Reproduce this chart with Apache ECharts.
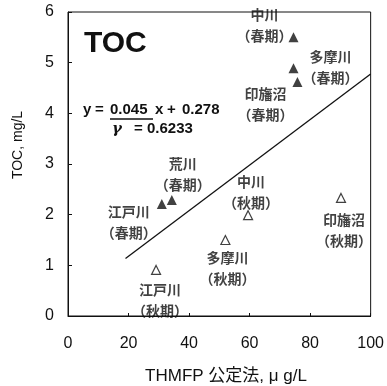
<!DOCTYPE html>
<html>
<head>
<meta charset="utf-8">
<script src="https://cdn.jsdelivr.net/npm/echarts@6/dist/echarts.min.js"></script>
<style>
  html, body { margin: 0; padding: 0; background: #fff; }
  #main { width: 387px; height: 386px; }
</style>
</head>
<body>
<div id="main"></div>
<script>
// data
var springNames = ['中川', '多摩川', '印旛沼', '荒川', '江戸川'];
var springX = [74.5, 74.5, 75.8, 34.3, 31.0];
var springY = [5.50, 4.89, 4.62, 2.29, 2.21];

var autumnNames = ['江戸川', '多摩川', '中川', '印旛沼'];
var autumnX = [29.1, 52.0, 59.5, 90.2];
var autumnY = [0.91, 1.50, 1.99, 2.33];

// regression given on the chart
var slope = 0.045, intercept = 0.278, fitFrom = 19, fitTo = 100;

var xTicks = [0, 20, 40, 60, 80, 100];
var yTicks = [0, 1, 2, 3, 4, 5, 6];

// where each label sits relative to its triangle (px)
var springOffsets = [[-29, -12], [37, -1], [-32, 22], [11, -26], [-33, 18]];
var autumnOffsets = [[4, 30], [2, 28], [3, -23], [3, 32]];

var cjk = '"Noto Sans CJK JP", "Liberation Sans", sans-serif';
var latin = '"Liberation Sans", Arial, sans-serif';

function points(names, xs, ys, offs, season) {
  return names.map(function (n, i) {
    return {
      name: n,
      value: [xs[i], ys[i]],
      label: { offset: offs[i], formatter: n + '\n（' + season + '）' }
    };
  });
}

var labelStyle = {
  show: true,
  position: 'inside',
  fontFamily: cjk,
  fontSize: 14,
  fontWeight: 'bold',
  color: '#111',
  lineHeight: 21
};

function txt(x, y, s, font) {
  return { type: 'text', x: x, y: y, style: { text: s, font: font, fill: '#111', verticalAlign: 'middle' } };
}
var eqFont = 'bold 15px ' + latin;

var chart = echarts.init(document.getElementById('main'));
chart.setOption({
  animation: false,
  grid: { left: 68, right: 13, top: 12, bottom: 70, show: true, borderColor: '#111', borderWidth: 1 },
  xAxis: {
    type: 'value', min: 0, max: 100, interval: 20,
    axisLine: { show: true, lineStyle: { color: '#111' } },
    axisTick: { show: true, inside: true, length: 3, lineStyle: { color: '#111' } },
    splitLine: { show: false },
    axisLabel: { margin: 20, fontFamily: latin, fontSize: 16, color: '#111', showMaxLabel: true,
      formatter: function (v) { return xTicks.indexOf(v) >= 0 ? String(v) : ''; } }
  },
  yAxis: {
    type: 'value', min: 0, max: 6, interval: 1,
    axisLine: { show: true, lineStyle: { color: '#111' } },
    axisTick: { show: true, inside: true, length: 4, lineStyle: { color: '#111' } },
    splitLine: { show: false },
    axisLabel: { margin: 14, fontFamily: latin, fontSize: 16, color: '#111',
      formatter: function (v) { return yTicks.indexOf(v) >= 0 ? String(v) : ''; } }
  },
  series: [
    {
      type: 'line',
      data: [[fitFrom, slope * fitFrom + intercept], [fitTo, slope * fitTo + intercept]],
      symbol: 'none',
      lineStyle: { color: '#111', width: 1.3 },
      z: 1
    },
    {
      type: 'scatter',
      symbol: 'triangle',
      symbolSize: 10,
      itemStyle: { color: '#111' },
      data: points(springNames, springX, springY, springOffsets, '春期'),
      label: labelStyle,
      z: 3
    },
    {
      type: 'scatter',
      symbol: 'triangle',
      symbolSize: 9,
      itemStyle: { color: '#fff', borderColor: '#111', borderWidth: 1.2 },
      data: points(autumnNames, autumnX, autumnY, autumnOffsets, '秋期'),
      label: labelStyle,
      z: 3
    }
  ],
  graphic: [
    { type: 'text', left: 84, top: 29, style: { text: 'TOC', font: 'bold 30px ' + latin, fill: '#111' } },
    txt(83, 110, 'y', eqFont),
    txt(95, 110, '=', eqFont),
    txt(110, 110, '0.045', eqFont),
    txt(155, 110, 'x', eqFont),
    txt(167, 110, '+', eqFont),
    txt(182, 110, '0.278', eqFont),
    { type: 'line', shape: { x1: 110, y1: 119, x2: 153, y2: 119 }, style: { stroke: '#111', lineWidth: 1.3 } },
    txt(112, 129, 'γ', 'italic bold 15px "DejaVu Serif", serif'),
    txt(134, 129, '=', eqFont),
    txt(147, 129, '0.6233', eqFont),
    { type: 'text', x: 18, y: 145, rotation: Math.PI / 2,
      style: { text: 'TOC, mg/L', font: '14px "Liberation Sans Narrow", ' + latin, fill: '#111', align: 'center', verticalAlign: 'middle' } },
    { type: 'text', x: 226, y: 376,
      style: { text: 'THMFP 公定法, μ g/L', font: '17px "Liberation Sans", "Noto Sans CJK JP", sans-serif', fill: '#111', align: 'center', verticalAlign: 'middle' } }
  ]
});
</script>
</body>
</html>
